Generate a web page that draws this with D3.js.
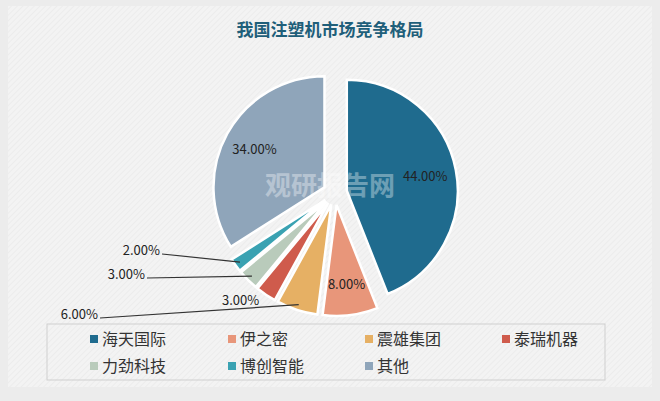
<!DOCTYPE html>
<html>
<head>
<meta charset="UTF-8">
<script src="https://cdn.jsdelivr.net/npm/d3@7"></script>
<style>
body{margin:0;background:#fff;}
text{font-family:"Noto Sans CJK SC","Liberation Sans",sans-serif;}
</style>
</head>
<body>
<div id="chart"></div>
<script>
var W = 660, H = 401;
var names = ["海天国际", "伊之密", "震雄集团", "泰瑞机器", "力劲科技", "博创智能", "其他"];
var values = [44, 8, 6, 3, 3, 2, 34];
var colors = ["#1f6b8e", "#e8967a", "#e6b064", "#cf5b4c", "#b9cbbb", "#3aa2b2", "#8fa5ba"];
// label placement: inside arc or outside with a leader line
var labelMode = ["in", "in", "lead", "out", "lead", "lead", "in"];
var leadTo = [null, null, [80, 318], null, [127, 278], [142, 254], null];

var cx = 335, cy = 193, R = 111, explode = 12;

var svg = d3.select("#chart").append("svg").attr("width", W).attr("height", H);
var defs = svg.append("defs");
var pat = defs.append("pattern").attr("id", "hatch").attr("width", 4).attr("height", 4)
  .attr("patternUnits", "userSpaceOnUse").attr("patternTransform", "rotate(45)");
pat.append("rect").attr("width", 4).attr("height", 4).attr("fill", "#f3f3f3");
pat.append("line").attr("x1", 0).attr("y1", 0).attr("x2", 0).attr("y2", 4).attr("stroke", "#e6e6e6").attr("stroke-width", 1);
svg.append("rect").attr("width", W).attr("height", H).attr("fill", "#ececec");
svg.append("rect").attr("x", 8).attr("y", 6).attr("width", W - 16).attr("height", H - 20).attr("fill", "url(#hatch)");

svg.append("text").attr("x", W / 2).attr("y", 36).attr("text-anchor", "middle")
  .attr("font-size", 17).attr("font-weight", "bold").attr("fill", "#1f5f7a").text("我国注塑机市场竞争格局");

var pie = d3.pie().sort(null).value(function (d) { return d; });
var arcs = pie(values);
var arc = d3.arc().innerRadius(0).outerRadius(R);
var g = svg.append("g").attr("transform", "translate(" + cx + "," + cy + ")");

function off(d) {
  var a = (d.startAngle + d.endAngle) / 2;
  return [Math.sin(a) * explode, -Math.cos(a) * explode];
}

g.selectAll("path").data(arcs).enter().append("path")
  .attr("d", arc)
  .attr("transform", function (d) { var o = off(d); return "translate(" + o[0] + "," + o[1] + ")"; })
  .attr("fill", function (d, i) { return colors[i]; })
  .attr("stroke", "#fff").attr("stroke-width", 2.5);

// watermark
svg.append("text").attr("x", 330).attr("y", 195).attr("text-anchor", "middle").attr("font-size", 26)
  .attr("font-weight", "bold").attr("fill", "#ffffff").attr("opacity", 0.35).text("观研报告网");

var inArc = d3.arc().innerRadius(R * 0.72).outerRadius(R * 0.72);
var outArc = d3.arc().innerRadius(R * 1.18).outerRadius(R * 1.18);
var edgeArc = d3.arc().innerRadius(R * 0.95).outerRadius(R * 0.95);
arcs.forEach(function (d, i) {
  var o = off(d), p, lbl = d3.format(".2f")(values[i]) + "%";
  if (labelMode[i] === "in") {
    p = inArc.centroid(d);
    g.append("text").attr("x", p[0] + o[0]).attr("y", p[1] + o[1] + 5).attr("text-anchor", "middle")
      .attr("font-size", 13).attr("fill", "#222").text(lbl);
  } else if (labelMode[i] === "out") {
    p = outArc.centroid(d);
    g.append("text").attr("x", p[0] + o[0] - 14).attr("y", p[1] + o[1] - 6).attr("text-anchor", "middle")
      .attr("font-size", 13).attr("fill", "#222").text(lbl);
  } else {
    p = edgeArc.centroid(d);
    var t = leadTo[i];
    svg.append("line").attr("x1", t[0] + 20).attr("y1", t[1]).attr("x2", cx + p[0] + o[0]).attr("y2", cy + p[1] + o[1])
      .attr("stroke", "#333").attr("stroke-width", 1.2);
    svg.append("text").attr("x", t[0] + 18).attr("y", t[1] + 1).attr("text-anchor", "end")
      .attr("font-size", 13).attr("fill", "#222").text(lbl);
  }
});

// legend
var lg = svg.append("g");
lg.append("rect").attr("x", 47).attr("y", 324).attr("width", 558).attr("height", 56)
  .attr("fill", "none").attr("stroke", "#cfcfcf");
var colX = [90, 228, 365, 502];
names.forEach(function (n, i) {
  var x = colX[i % 4], y = 339 + Math.floor(i / 4) * 27;
  lg.append("rect").attr("x", x).attr("y", y - 4).attr("width", 8).attr("height", 8).attr("fill", colors[i]);
  lg.append("text").attr("x", x + 12).attr("y", y + 6).attr("font-size", 16).attr("fill", "#333").text(n);
});
</script>
</body>
</html>
